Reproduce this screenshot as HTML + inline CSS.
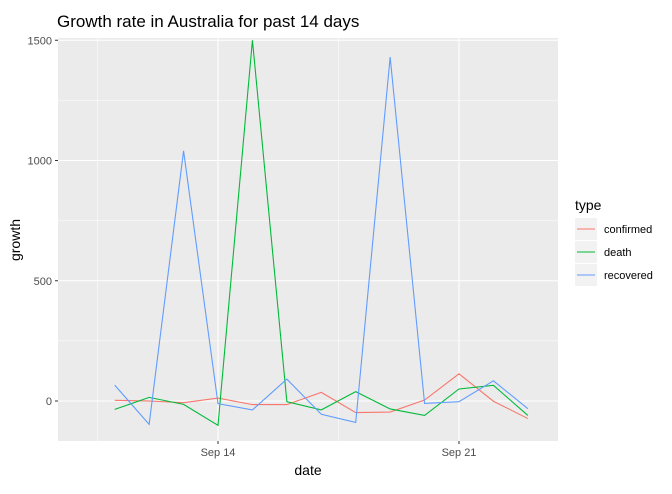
<!DOCTYPE html>
<html><head><meta charset="utf-8"><style>
body{margin:0;background:#fff;font-family:"Liberation Sans",Arial,sans-serif}
svg text{font-family:"Liberation Sans",Arial,sans-serif}
</style></head><body>
<svg id="chart" width="672" height="489">
<text x="57" y="27" font-size="17" fill="#000">Growth rate in Australia for past 14 days</text>
<rect x="58" y="38" width="500" height="403" fill="#EBEBEB"/>
<g id="grid"></g><g id="series"></g><g id="axes"></g>
<text x="308" y="475" font-size="14" text-anchor="middle">date</text>
<text x="20" y="240" font-size="14" text-anchor="middle" transform="rotate(-90 20 240)">growth</text>
<g>
<text x="575" y="210" font-size="14">type</text>
<g id="legend"></g>
</g>
</svg>
<script>
const days=[11,12,13,14,15,16,17,18,19,20,21,22,23];
const confirmed=[3,0,-7,12,-15,-15,36,-48,-46,4,113,-1,-73];
const death=[-35,15,-14,-101,1500,-3,-37,39,-33,-60,50,65,-60];
const recovered=[66,-97,1040,-11,-37,91,-55,-89,1430,-10,-3,84,-32];
const yTicks=[0,500,1000,1500];
const xTicks=[{d:14,l:"Sep 14"},{d:21,l:"Sep 21"}];
const seriesNames=["confirmed","death","recovered"];
const colors=["#F8766D","#00BA38","#619CFF"];
const X=d=>218+(d-14)*34.43;
const Y=v=>401-v*0.2405;
const NS="http://www.w3.org/2000/svg";
function mk(t,a,p){const e=document.createElementNS(NS,t);for(const k in a)e.setAttribute(k,a[k]);p.appendChild(e);return e;}
const grid=document.getElementById('grid'),axes=document.getElementById('axes'),ser=document.getElementById('series'),leg=document.getElementById('legend');
for(let v=-250;v<=1750;v+=250){const y=Y(v);if(y<38||y>441)continue;const major=v%500===0;
 const l=mk('line',{x1:58,x2:558,y1:y,y2:y,stroke:'#fff','stroke-width':major?1.1:0.55},grid);
 }
for(let d=7;d<=28;d+=3.5){const x=X(d);if(x<58||x>558)continue;const major=(d%7===0);
 const l=mk('line',{x1:x,x2:x,y1:38,y2:441,stroke:'#fff','stroke-width':major?1.1:0.55},grid);
 }
yTicks.forEach(v=>{const y=Y(v);
 const t=mk('text',{x:52,y:y+4,'font-size':11,'text-anchor':'end',fill:'#4D4D4D'},axes);t.textContent=v;
 
 const k=mk('line',{x1:55,x2:58,y1:y,y2:y,stroke:'#333'},axes);
 });
xTicks.forEach(o=>{const x=X(o.d);
 const k=mk('line',{x1:x,x2:x,y1:441,y2:444,stroke:'#333'},axes);
 
 const t=mk('text',{x:x,y:456,'font-size':11,'text-anchor':'middle',fill:'#4D4D4D'},axes);t.textContent=o.l;
 });
[confirmed,death,recovered].forEach((arr,i)=>{
 const p=mk('polyline',{points:arr.map((v,j)=>X(days[j])+','+Y(v)).join(' '),fill:'none',stroke:colors[i],'stroke-width':1.1},ser);
 
 const y=229+i*23;
 const b=mk('rect',{x:575,y:y-11,width:22,height:22,fill:'#F2F2F2'},leg);
 
 const l=mk('line',{x1:577,x2:595,y1:y,y2:y,stroke:colors[i],'stroke-width':1.1},leg);
 
 const t=mk('text',{x:604,y:y+4,'font-size':11},leg);t.textContent=seriesNames[i];
 });
</script>
</body></html>
